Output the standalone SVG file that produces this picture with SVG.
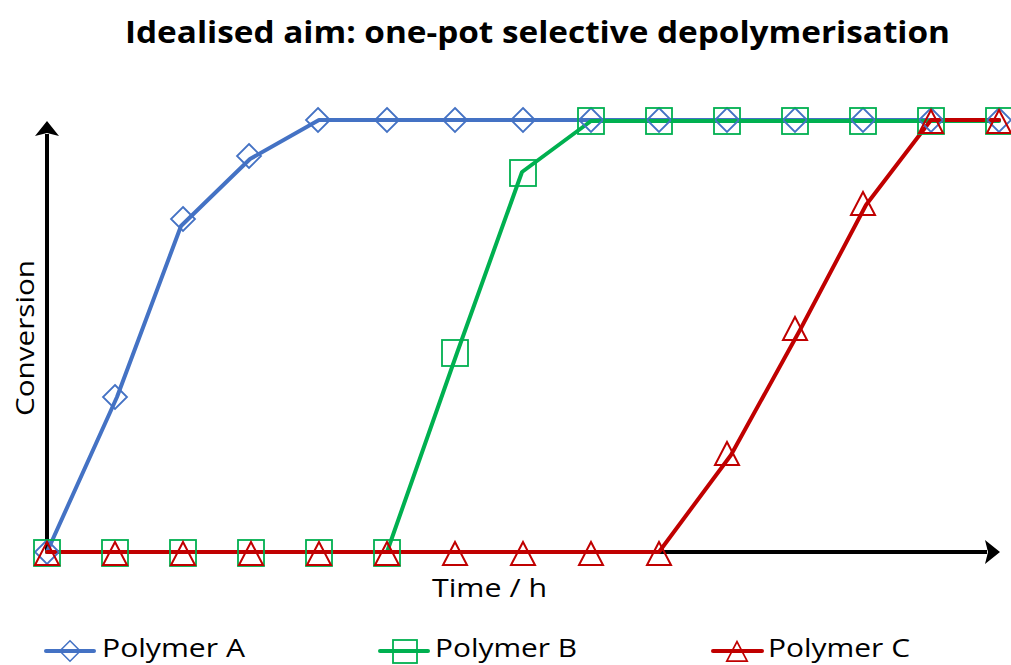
<svg xmlns="http://www.w3.org/2000/svg" width="1011" height="665" viewBox="0 0 1011 665">
<style>
text{font-family:"Open Sans","Liberation Sans",sans-serif;fill:#000}
.t{font-size:30px;font-weight:bold}
.l{font-size:26px}
.axis{stroke:#000;stroke-width:4;fill:none}
.sa{stroke:#4472C4;stroke-width:4;fill:none;stroke-linejoin:round;stroke-linecap:round}
.sb{stroke:#00B050;stroke-width:4;fill:none;stroke-linejoin:round;stroke-linecap:round}
.sc{stroke:#C00000;stroke-width:4;fill:none;stroke-linejoin:round;stroke-linecap:round}
.ma{stroke:#4472C4;stroke-width:1.8;fill:none}
.mb{stroke:#00B050;stroke-width:1.8;fill:none}
.mc{stroke:#C00000;stroke-width:2;fill:none}
</style>
<defs>
<path id="dia" d="M0,-12 L12,0 L0,12 L-12,0 Z"/>
<rect id="sq" x="-13" y="-13" width="26" height="26"/>
<path id="tri" d="M0,-11 L12,12 L-12,12 Z"/>
</defs>
<rect width="1011" height="665" fill="#fff"/>
<text class="t" x="125" y="43" textLength="825" lengthAdjust="spacingAndGlyphs">Idealised aim: one-pot selective depolymerisation</text>
<g id="axes">
<path class="axis" d="M47,552 V134"/>
<path d="M47,121 L59,136 L47,133 L35,136 Z" fill="#000"/>
<path class="axis" d="M47,552 H987"/>
<path d="M1000,552 L985,564 L988,552 L985,540 Z" fill="#000"/>
<text class="l" transform="translate(34,338) rotate(-90)" text-anchor="middle" textLength="156" lengthAdjust="spacingAndGlyphs">Conversion</text>
<text class="l" x="432" y="597" textLength="115" lengthAdjust="spacingAndGlyphs">Time / h</text>
</g>
<g id="connectors">
<polyline id="lineA" class="sa" points="47,552 117,397 181,226 250,159 319,120 999,120"/>
<polyline id="lineB" class="sb" points="47,552 387,552 457,353 522,172 591,121 999,121"/>
<polyline id="lineC" class="sc" points="47,552 659,552 731,455 800,330 866,205 931,120 999,120"/>
</g>
<g id="markersA" class="ma">
<use href="#dia" x="47" y="552"/><use href="#dia" x="115" y="397"/><use href="#dia" x="183" y="219"/><use href="#dia" x="249" y="156"/><use href="#dia" x="318" y="120"/><use href="#dia" x="387" y="120"/><use href="#dia" x="455" y="120"/><use href="#dia" x="523" y="120"/><use href="#dia" x="591" y="120"/><use href="#dia" x="659" y="120"/><use href="#dia" x="727" y="120"/><use href="#dia" x="795" y="120"/><use href="#dia" x="863" y="120"/><use href="#dia" x="931" y="120"/><use href="#dia" x="999" y="120"/>
</g>
<g id="markersB" class="mb">
<use href="#sq" x="47" y="553"/><use href="#sq" x="115" y="553"/><use href="#sq" x="183" y="553"/><use href="#sq" x="251" y="553"/><use href="#sq" x="319" y="553"/><use href="#sq" x="387" y="553"/><use href="#sq" x="455" y="353"/><use href="#sq" x="523" y="173"/><use href="#sq" x="591" y="121"/><use href="#sq" x="659" y="121"/><use href="#sq" x="727" y="121"/><use href="#sq" x="795" y="121"/><use href="#sq" x="863" y="121"/><use href="#sq" x="931" y="121"/><use href="#sq" x="999" y="121"/>
</g>
<g id="markersC" class="mc">
<use href="#tri" x="47" y="553"/><use href="#tri" x="115" y="553"/><use href="#tri" x="183" y="553"/><use href="#tri" x="251" y="553"/><use href="#tri" x="319" y="553"/><use href="#tri" x="387" y="553"/><use href="#tri" x="455" y="553"/><use href="#tri" x="523" y="553"/><use href="#tri" x="591" y="553"/><use href="#tri" x="659" y="553"/><use href="#tri" x="727" y="453"/><use href="#tri" x="795" y="328"/><use href="#tri" x="863" y="203"/><use href="#tri" x="931" y="121"/><use href="#tri" x="999" y="121"/>
</g>
<g id="legendA">
<line class="sa" x1="46" y1="651" x2="94" y2="651"/>
<use href="#dia" x="70" y="651" class="ma" transform="translate(70,651) scale(0.85) translate(-70,-651)"/>
<text class="l" x="102" y="657" textLength="143" lengthAdjust="spacingAndGlyphs">Polymer A</text>
</g>
<g id="legendB">
<line class="sb" x1="380" y1="651" x2="428" y2="651"/>
<rect class="mb" x="393" y="640" width="24" height="23"/>
<text class="l" x="435" y="657" textLength="142" lengthAdjust="spacingAndGlyphs">Polymer B</text>
</g>
<g id="legendC">
<line class="sc" x1="713" y1="651" x2="762" y2="651"/>
<use href="#tri" x="737" y="651" class="mc" transform="translate(737,651) scale(0.85) translate(-737,-651)"/>
<text class="l" x="768" y="657" textLength="142" lengthAdjust="spacingAndGlyphs">Polymer C</text>
</g>
</svg>
